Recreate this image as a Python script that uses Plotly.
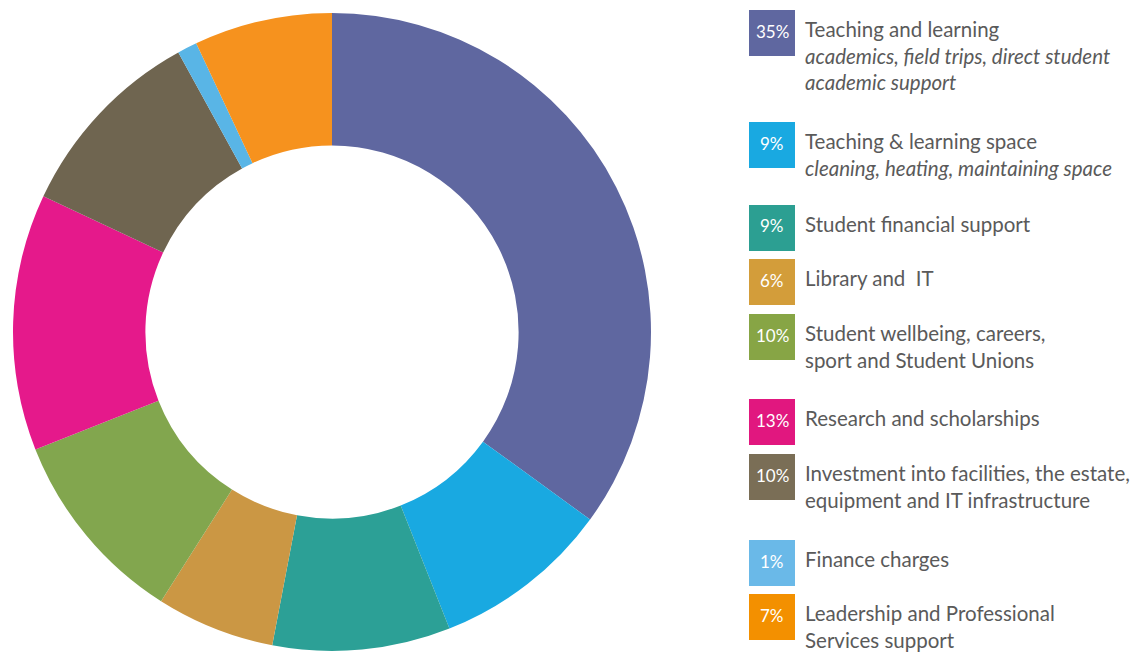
import plotly.graph_objects as go

categories = [
    "Teaching and learning",
    "Teaching & learning space",
    "Student financial support",
    "Library and\u00a0 IT",
    "Student wellbeing, careers,<br>sport and Student Unions",
    "Research and scholarships",
    "Investment into facilities, the estate,<br>equipment and IT infrastructure",
    "Finance charges",
    "Leadership and Professional<br>Services support",
]
subtitles = [
    "academics, field trips, direct student<br>academic support",
    "cleaning, heating, maintaining space",
    "", "", "", "", "", "", "",
]
values = [35, 9, 9, 6, 10, 13, 10, 1, 7]

slice_colors = ["#5F67A0", "#19A9E1", "#2CA096", "#CB9744", "#82A64E",
                "#E5198B", "#6F6550", "#59B5E6", "#F6921E"]
box_colors = ["#5F67A0", "#19A9E1", "#2C9F92", "#D39D3A", "#87A545",
              "#E1177F", "#7A6E56", "#6AB9E8", "#F39000"]

OFF = 8  # page body margin
W, H = 1146 - OFF, 655 - OFF
legend_top_px = [10, 122, 205, 259, 314, 399, 454, 540, 594]
box_x0, box_w, box_h = 749, 46, 46
text_x = 803

def px_x(x):
    return (x - OFF) / W

def px_y(y):
    return 1 - (y - OFF) / H

fig = go.Figure()
fig.add_trace(go.Pie(
    values=values,
    labels=[c.replace("<br>", " ") for c in categories],
    marker=dict(colors=slice_colors, line=dict(width=0)),
    hole=0.585,
    sort=False,
    direction="clockwise",
    rotation=0,
    textinfo="none",
    hoverinfo="skip",
    domain=dict(x=[px_x(13), px_x(651)], y=[max(0, px_y(651)), px_y(13)]),
))

shapes = []
annotations = []
for i, (cat, sub, v) in enumerate(zip(categories, subtitles, values)):
    top = legend_top_px[i]
    shapes.append(dict(
        type="rect", xref="paper", yref="paper",
        x0=px_x(box_x0), x1=px_x(box_x0 + box_w),
        y0=px_y(top + box_h), y1=px_y(top),
        fillcolor=box_colors[i], line=dict(width=0), layer="above",
    ))
    annotations.append(dict(
        xref="paper", yref="paper",
        x=px_x(box_x0 + box_w / 2), y=px_y(top + 21),
        xanchor="center", yanchor="middle",
        text=f"{v}%", showarrow=False,
        font=dict(family="Lato", size=17, color="white"),
    ))
    txt = cat
    if sub:
        txt += "<br><i>" + sub + "</i>"
    annotations.append(dict(
        xref="paper", yref="paper",
        x=px_x(text_x), y=px_y(top + 5),
        xanchor="left", yanchor="top", align="left",
        text=txt, showarrow=False,
        font=dict(family="Lato", size=20.5, color="#5a5a5a"),
    ))

fig.update_layout(
    width=W, height=H,
    margin=dict(l=0, r=0, t=0, b=0),
    paper_bgcolor="white", plot_bgcolor="white",
    showlegend=False,
    shapes=shapes, annotations=annotations,
    hovermode=False,
)
fig.write_html("out.html")
